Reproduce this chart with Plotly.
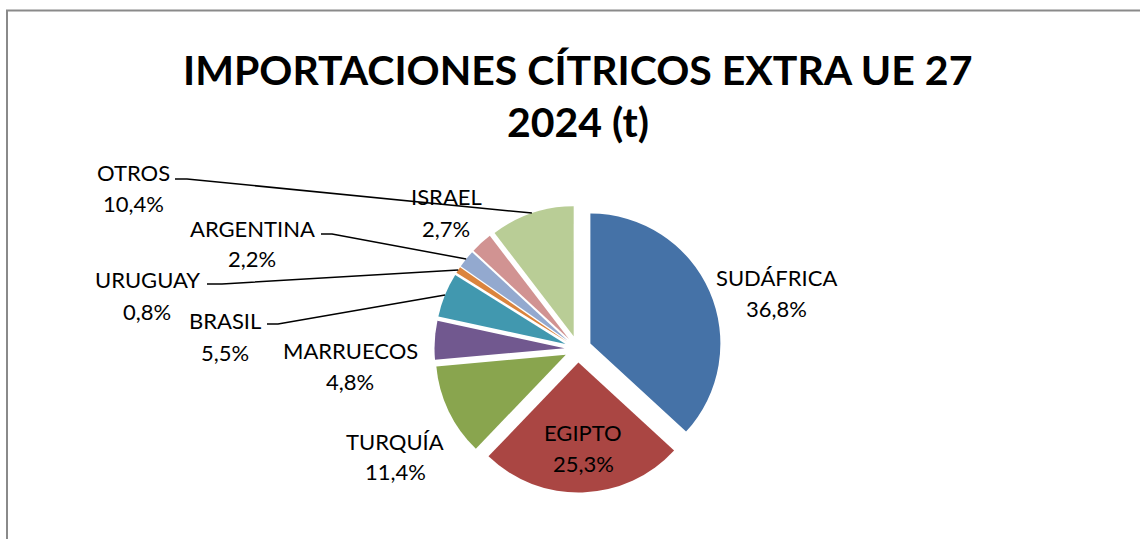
import math
import plotly.graph_objects as go

# ---------------- data ----------------
countries = ["SUDÁFRICA", "EGIPTO", "TURQUÍA", "MARRUECOS", "BRASIL",
             "URUGUAY", "ARGENTINA", "ISRAEL", "OTROS"]
shares = [36.8, 25.3, 11.4, 4.8, 5.5, 0.8, 2.2, 2.7, 10.4]
colors = ["#4572A7", "#AA4643", "#89A54E", "#71588F", "#4198AF",
          "#DB843D", "#93A9CF", "#D19392", "#B9CD96"]
title_lines = ["IMPORTACIONES CÍTRICOS EXTRA UE 27", "2024 (t)"]

# ---------------- layout constants (pixels) ----------------
W, H = 1140, 539
CX, CY = 578.0, 349.0      # pie centre
R = 130.0                  # pie radius
PULL = 0.104               # explode fraction of radius

# label anchor positions: (x, y_name, y_pct)
label_pos = {
    "SUDÁFRICA": (776, 277, 308),
    "EGIPTO": (583, 432, 463),
    "TURQUÍA": (395, 441, 471),
    "MARRUECOS": (350, 350, 381),
    "BRASIL": (225, 320, 352),
    "URUGUAY": (147, 279, 311),
    "ARGENTINA": (252, 228, 258),
    "ISRAEL": (446, 196, 228),
    "OTROS": (133, 172, 203),
}
# leader lines: start point and elbow near label (pixels)
leaders = {
    "OTROS": [(175, 179), (187, 179)],
    "ARGENTINA": [(321, 234), (332, 234)],
    "URUGUAY": [(207, 284), (222, 284)],
    "BRASIL": [(267, 324), (278, 324)],
}

FONT = "Lato, 'Open Sans', sans-serif"


def px(x):
    return x / W


def py(y):
    return 1 - y / H


half = R * (1 + PULL)
fig = go.Figure(go.Pie(
    labels=countries,
    values=shares,
    marker=dict(colors=colors, line=dict(width=0)),
    sort=False,
    direction="clockwise",
    rotation=0,
    pull=[PULL] * len(shares),
    textinfo="none",
    hoverinfo="label+percent",
    showlegend=False,
    domain=dict(x=[px(CX - half), px(CX + half)],
                y=[py(CY + half), py(CY - half)]),
))

total = sum(shares)
cum = 0.0
mid_angle = {}
for c, v in zip(countries, shares):
    mid_angle[c] = (cum + v / 2) / total * 2 * math.pi
    cum += v

annotations = []
for c, v in zip(countries, shares):
    x, yn, yp = label_pos[c]
    pct = f"{v:.1f}".replace(".", ",") + "%"
    for txt, yy in ((c, yn), (pct, yp)):
        annotations.append(dict(
            x=px(x), y=py(yy), xref="paper", yref="paper",
            text=txt, showarrow=False, xanchor="center", yanchor="middle",
            font=dict(family=FONT, size=22, color="#000000")))

for i, (t, yy) in enumerate(zip(title_lines, (69, 122))):
    annotations.append(dict(
        x=px(577.5), y=py(yy), xref="paper", yref="paper",
        text=f"<b>{t}</b>", showarrow=False, xanchor="center",
        yanchor="middle", font=dict(family=FONT, size=41, color="#000000")))

shapes = []
# chart area border (only top and left edges visible)
border = [(7, H), (7, 10.5), (W, 10.5)]
shapes.append(dict(type="path", xref="paper", yref="paper",
                   path="M " + " L ".join(f"{px(x):.5f},{py(y):.5f}" for x, y in border),
                   line=dict(color="#8A8A8A", width=2)))

for c, pts in leaders.items():
    a = mid_angle[c]
    sx = CX + R * PULL * math.sin(a)
    sy = CY - R * PULL * math.cos(a)
    ex = sx + R * math.sin(a)
    ey = sy - R * math.cos(a)
    path_pts = pts + [(ex, ey)]
    path = "M " + " L ".join(f"{px(x):.5f},{py(y):.5f}" for x, y in path_pts)
    shapes.append(dict(type="path", xref="paper", yref="paper", path=path,
                       line=dict(color="#000000", width=1.5)))

fig.update_layout(
    width=W, height=H,
    margin=dict(l=0, r=0, t=0, b=0),
    paper_bgcolor="#FFFFFF",
    plot_bgcolor="#FFFFFF",
    annotations=annotations,
    shapes=shapes,
)

fig.write_html(
    "out.html", config={"displayModeBar": False},
    post_script=("document.body.style.margin='0';"
                 "document.body.style.overflow='hidden';"
                 "document.documentElement.style.overflow='hidden';"))
